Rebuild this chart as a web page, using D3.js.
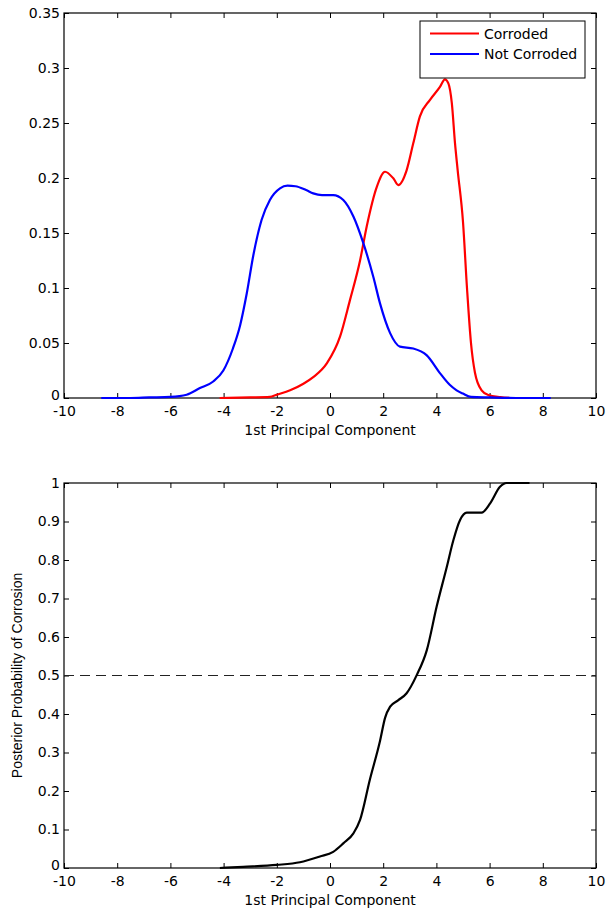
<!DOCTYPE html>
<html lang="en">

<head>
    <meta charset="UTF-8">
    <title>Corrosion PCA</title>
    <style>
        body { margin: 0; background: #fff; }
        text { font-family: "DejaVu Sans", sans-serif; font-size: 14px; fill: #000; }
    </style>
</head>

<body>
    <script src="https://cdn.jsdelivr.net/npm/d3@7"></script>
    <script>
        // tick labels
        const xTicks = [-10, -8, -6, -4, -2, 0, 2, 4, 6, 8, 10];
        const densTicks = [0, 0.05, 0.1, 0.15, 0.2, 0.25, 0.3, 0.35];
        const densLabels = ['0', '0.05', '0.1', '0.15', '0.2', '0.25', '0.3', '0.35'];
        const probTicks = [0, 0.1, 0.2, 0.3, 0.4, 0.5, 0.6, 0.7, 0.8, 0.9, 1];
        const probLabels = ['0', '0.1', '0.2', '0.3', '0.4', '0.5', '0.6', '0.7', '0.8', '0.9', '1'];

        // density of the 1st principal component, corroded
        const corrodedX = [-4.15, -3.0, -2.26, -2.0, -1.5, -1.0, -0.63, -0.12, 0.38, 0.75, 1.13, 1.38, 1.76, 2.07, 2.38, 2.57, 2.88, 3.13, 3.38, 3.76, 4.14, 4.32, 4.45, 4.58, 4.7, 4.8, 5.0, 5.15, 5.3, 5.45, 5.7, 5.95, 6.4, 6.8];
        const corrodedY = [0, 0.0005, 0.001, 0.003, 0.007, 0.013, 0.019, 0.0315, 0.056, 0.089, 0.125, 0.156, 0.192, 0.2057, 0.1997, 0.1936, 0.207, 0.2315, 0.256, 0.271, 0.283, 0.2897, 0.286, 0.268, 0.2315, 0.207, 0.16, 0.10, 0.05, 0.023, 0.007, 0.0027, 0.0008, 0];

        // not corroded
        const notCorrodedX = [-8.6, -7.5, -6.8, -6.0, -5.39, -4.89, -4.39, -4.01, -3.65, -3.38, -3.13, -2.88, -2.57, -2.26, -1.88, -1.6, -1.3, -0.9, -0.63, -0.3, 0.12, 0.5, 0.88, 1.25, 1.63, 1.88, 2.26, 2.63, 3.13, 3.63, 4.14, 4.5, 4.76, 5.0, 5.3, 6.0, 7.0, 8.3];
        const notCorrodedY = [0, 0, 0.0005, 0.001, 0.003, 0.009, 0.015, 0.025, 0.045, 0.066, 0.095, 0.13, 0.162, 0.18, 0.1906, 0.193, 0.1925, 0.189, 0.186, 0.1845, 0.1845, 0.18, 0.165, 0.141, 0.110, 0.086, 0.059, 0.0467, 0.045, 0.039, 0.0224, 0.012, 0.007, 0.004, 0.001, 0.0005, 0, 0];

        // posterior probability of corrosion
        const postX = [-4.14, -3.26, -2.0, -1.13, -0.38, 0.12, 0.5, 0.88, 1.13, 1.5, 1.88, 2.07, 2.26, 2.57, 2.88, 3.26, 3.64, 4.01, 4.39, 4.64, 4.89, 5.14, 5.7, 6.02, 6.39, 6.64, 7.5];
        const postY = [0, 0.003, 0.008, 0.015, 0.03, 0.042, 0.064, 0.09, 0.125, 0.23, 0.33, 0.39, 0.419, 0.436, 0.454, 0.501, 0.566, 0.679, 0.782, 0.852, 0.904, 0.923, 0.923, 0.947, 0.99, 1.0, 1.0];

        const w = 613;
        const h = 909;
        const left = 64, right = 596;

        const svg = d3.select('body')
            .append('svg')
            .attr('width', w)
            .attr('height', h);

        const xScale = d3.scaleLinear().domain([-10, 10]).range([left, right]);
        const yTop = d3.scaleLinear().domain([0, 0.35]).range([398, 13]);
        const yBot = d3.scaleLinear().domain([0, 1]).range([868, 483]);

        function drawAxes(yScale, yTicks, yLabels) {
            const y0 = yScale.range()[0], y1 = yScale.range()[1];
            const g = svg.append('g');

            g.append('g')
                .attr('transform', `translate(0,${y0})`)
                .call(d3.axisBottom(xScale).tickValues(xTicks).tickFormat(d => String(d))
                    .tickSizeInner(-5).tickSizeOuter(0).tickPadding(8));
            g.append('g')
                .attr('transform', `translate(0,${y1})`)
                .call(d3.axisTop(xScale).tickValues(xTicks).tickFormat('')
                    .tickSizeInner(-5).tickSizeOuter(0));
            const yAx = g.append('g')
                .attr('transform', `translate(${left},0)`)
                .call(d3.axisLeft(yScale).tickValues(yTicks).tickFormat((d, i) => yLabels[i])
                    .tickSizeInner(-5).tickSizeOuter(0).tickPadding(4));
            // lift the "0" a touch so it clears the "-10" below it
            yAx.selectAll('.tick text').filter(d => d === 0).attr('y', -3);
            g.append('g')
                .attr('transform', `translate(${right},0)`)
                .call(d3.axisRight(yScale).tickValues(yTicks).tickFormat('')
                    .tickSizeInner(-5).tickSizeOuter(0));

            g.selectAll('.domain').remove();
            g.selectAll('.tick line').attr('stroke', '#000');
            g.selectAll('.tick text')
                .attr('fill', '#000')
                .style('font-family', '"DejaVu Sans", sans-serif')
                .style('font-size', '14px');

            g.append('rect')
                .attr('x', left)
                .attr('y', y1)
                .attr('width', right - left)
                .attr('height', y0 - y1)
                .attr('fill', 'none')
                .attr('stroke', '#000')
                .attr('stroke-width', 1.2);

            // x title
            g.append('text')
                .attr('x', (left + right) / 2)
                .attr('y', y0 + 37)
                .attr('text-anchor', 'middle')
                .text('1st Principal Component');
        }

        function drawLine(xs, ys, yScale, color) {
            const pts = xs.map((x, i) => [x, ys[i]]);
            const line = d3.line()
                .x(d => xScale(d[0]))
                .y(d => yScale(d[1]))
                .curve(d3.curveMonotoneX);
            svg.append('path')
                .datum(pts)
                .attr('d', line)
                .attr('fill', 'none')
                .attr('stroke', color)
                .attr('stroke-width', 2.2)
                .attr('stroke-linejoin', 'round');
        }

        // top: densities
        drawAxes(yTop, densTicks, densLabels);
        drawLine(corrodedX, corrodedY, yTop, '#ff0000');
        drawLine(notCorrodedX, notCorrodedY, yTop, '#0000ff');

        // legend
        const legend = svg.append('g');
        legend.append('rect')
            .attr('x', 420).attr('y', 21)
            .attr('width', 165).attr('height', 57)
            .attr('fill', '#fff')
            .attr('stroke', '#000');
        [['Corroded', '#ff0000'], ['Not Corroded', '#0000ff']].forEach((d, i) => {
            const ly = 33.5 + i * 20.5;
            legend.append('line')
                .attr('x1', 430).attr('x2', 479)
                .attr('y1', ly).attr('y2', ly)
                .attr('stroke', d[1])
                .attr('stroke-width', 2);
            legend.append('text')
                .attr('x', 484)
                .attr('y', ly + 5)
                .text(d[0]);
        });

        // bottom: posterior
        drawAxes(yBot, probTicks, probLabels);
        svg.append('line')
            .attr('x1', left).attr('x2', right)
            .attr('y1', yBot(0.5)).attr('y2', yBot(0.5))
            .attr('stroke', '#222')
            .attr('stroke-width', 1)
            .attr('stroke-dasharray', '10,6');
        drawLine(postX, postY, yBot, '#000');

        svg.append('text')
            .attr('transform', `translate(22,${(483 + 868) / 2}) rotate(-90)`)
            .attr('text-anchor', 'middle')
            .style('font-family', '"Liberation Sans", Arial, sans-serif')
            .style('font-size', '14px')
            .text('Posterior Probability of Corrosion');
    </script>
</body>

</html>
